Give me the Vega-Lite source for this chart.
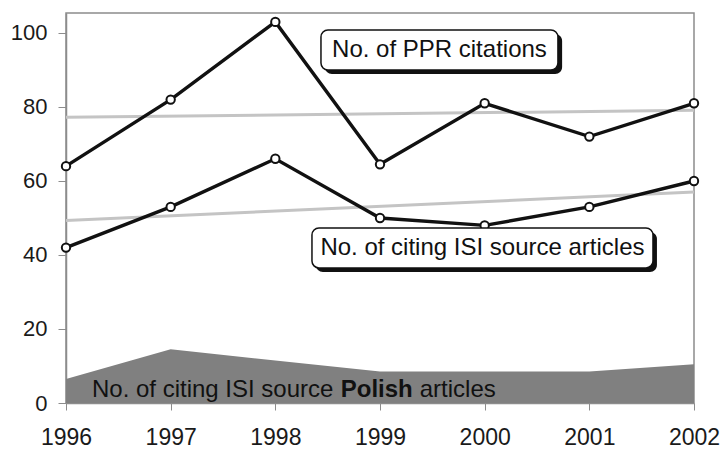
{
  "$schema": "https://vega.github.io/schema/vega-lite/v6.json",
  "width": 628,
  "height": 390,
  "autosize": "none",
  "padding": {"left": 66, "top": 13, "right": 31, "bottom": 47},
  "background": "white",
  "config": {
    "view": {"stroke": "#8c8c8c", "strokeWidth": 1.5},
    "font": "Liberation Sans"
  },
  "datasets": {
    "series": [
      {"year": 1996, "series": "ppr", "value": 64},
      {"year": 1997, "series": "ppr", "value": 82},
      {"year": 1998, "series": "ppr", "value": 103},
      {"year": 1999, "series": "ppr", "value": 64.5},
      {"year": 2000, "series": "ppr", "value": 81},
      {"year": 2001, "series": "ppr", "value": 72},
      {"year": 2002, "series": "ppr", "value": 81},
      {"year": 1996, "series": "isi", "value": 42},
      {"year": 1997, "series": "isi", "value": 53},
      {"year": 1998, "series": "isi", "value": 66},
      {"year": 1999, "series": "isi", "value": 50},
      {"year": 2000, "series": "isi", "value": 48},
      {"year": 2001, "series": "isi", "value": 53},
      {"year": 2002, "series": "isi", "value": 60}
    ],
    "polish": [
      {"year": 1996, "value": 6.5},
      {"year": 1997, "value": 14.5},
      {"year": 1998, "value": 11.5},
      {"year": 1999, "value": 8.5},
      {"year": 2000, "value": 8.5},
      {"year": 2001, "value": 8.5},
      {"year": 2002, "value": 10.5}
    ],
    "trends": [
      {"year": 1996, "series": "ppr", "value": 77.2},
      {"year": 2002, "series": "ppr", "value": 79.1},
      {"year": 1996, "series": "isi", "value": 49.3},
      {"year": 2002, "series": "isi", "value": 57.0}
    ],
    "boxes": [
      {"label": "No. of PPR citations", "x1": 1998.436, "x2": 2000.70, "y1": 100.8, "y2": 90.0, "sx1": 1998.474, "sx2": 2000.74, "sy1": 99.7, "sy2": 88.9, "cx": 1999.568, "cy": 95.4},
      {"label": "No. of citing ISI source articles", "x1": 1998.35, "x2": 2001.608, "y1": 47.3, "y2": 36.5, "sx1": 1998.388, "sx2": 2001.646, "sy1": 46.2, "sy2": 35.4, "cx": 1999.979, "cy": 41.9}
    ]
  },
  "encoding": {
    "x": {
      "field": "year",
      "type": "quantitative",
      "scale": {"domain": [1996, 2002], "nice": false, "zero": false},
      "axis": {
        "title": null,
        "values": [1996, 1997, 1998, 1999, 2000, 2001, 2002],
        "format": "d",
        "grid": false,
        "domainColor": "#8c8c8c",
        "domainWidth": 1.5,
        "tickColor": "#8c8c8c",
        "tickSize": 7,
        "labelFontSize": 23,
        "labelColor": "#1a1a1a",
        "labelPadding": 16,
        "labelFlush": false
      }
    },
    "y": {
      "field": "value",
      "type": "quantitative",
      "scale": {"domain": [0, 105.4], "nice": false, "zero": true},
      "axis": {
        "title": null,
        "values": [0, 20, 40, 60, 80, 100],
        "grid": false,
        "domainColor": "#8c8c8c",
        "domainWidth": 1.5,
        "tickColor": "#8c8c8c",
        "tickSize": 8,
        "labelFontSize": 22,
        "labelColor": "#1a1a1a",
        "labelPadding": 11
      }
    }
  },
  "layer": [
    {
      "data": {"name": "polish"},
      "mark": {"type": "area", "color": "#808080", "opacity": 1}
    },
    {
      "data": {"values": [{"year": 1996.248, "value": 1.6, "t": "No. of citing ISI source"}]},
      "mark": {"type": "text", "align": "left", "baseline": "alphabetic", "fontSize": 24, "color": "#111111"},
      "encoding": {"text": {"field": "t"}}
    },
    {
      "data": {"values": [{"year": 1998.625, "value": 1.6, "t": "Polish"}]},
      "mark": {"type": "text", "align": "left", "baseline": "alphabetic", "fontSize": 24, "fontWeight": "bold", "color": "#111111"},
      "encoding": {"text": {"field": "t"}}
    },
    {
      "data": {"values": [{"year": 1999.38, "value": 1.6, "t": "articles"}]},
      "mark": {"type": "text", "align": "left", "baseline": "alphabetic", "fontSize": 24, "color": "#111111"},
      "encoding": {"text": {"field": "t"}}
    },
    {
      "data": {"name": "trends"},
      "mark": {"type": "line", "color": "#c4c4c4", "strokeWidth": 3},
      "encoding": {"detail": {"field": "series"}}
    },
    {
      "data": {"name": "series"},
      "mark": {"type": "line", "color": "#111111", "strokeWidth": 3.4},
      "encoding": {"detail": {"field": "series"}}
    },
    {
      "data": {"name": "series"},
      "mark": {"type": "point", "shape": "circle", "filled": true, "fill": "white", "stroke": "#111111", "strokeWidth": 2, "size": 70, "opacity": 1},
      "encoding": {"detail": {"field": "series"}}
    },
    {
      "data": {"name": "boxes"},
      "mark": {"type": "rect", "color": "#111111", "cornerRadius": 7},
      "encoding": {
        "x": {"field": "sx1", "type": "quantitative"},
        "x2": {"field": "sx2"},
        "y": {"field": "sy1", "type": "quantitative"},
        "y2": {"field": "sy2"}
      }
    },
    {
      "data": {"name": "boxes"},
      "mark": {"type": "rect", "fill": "white", "stroke": "#111111", "strokeWidth": 1.5, "cornerRadius": 7},
      "encoding": {
        "x": {"field": "x1", "type": "quantitative"},
        "x2": {"field": "x2"},
        "y": {"field": "y1", "type": "quantitative"},
        "y2": {"field": "y2"}
      }
    },
    {
      "data": {"name": "boxes"},
      "mark": {"type": "text", "align": "center", "baseline": "middle", "fontSize": 24, "color": "#111111"},
      "encoding": {
        "x": {"field": "cx", "type": "quantitative"},
        "y": {"field": "cy", "type": "quantitative"},
        "text": {"field": "label"}
      }
    }
  ]
}
